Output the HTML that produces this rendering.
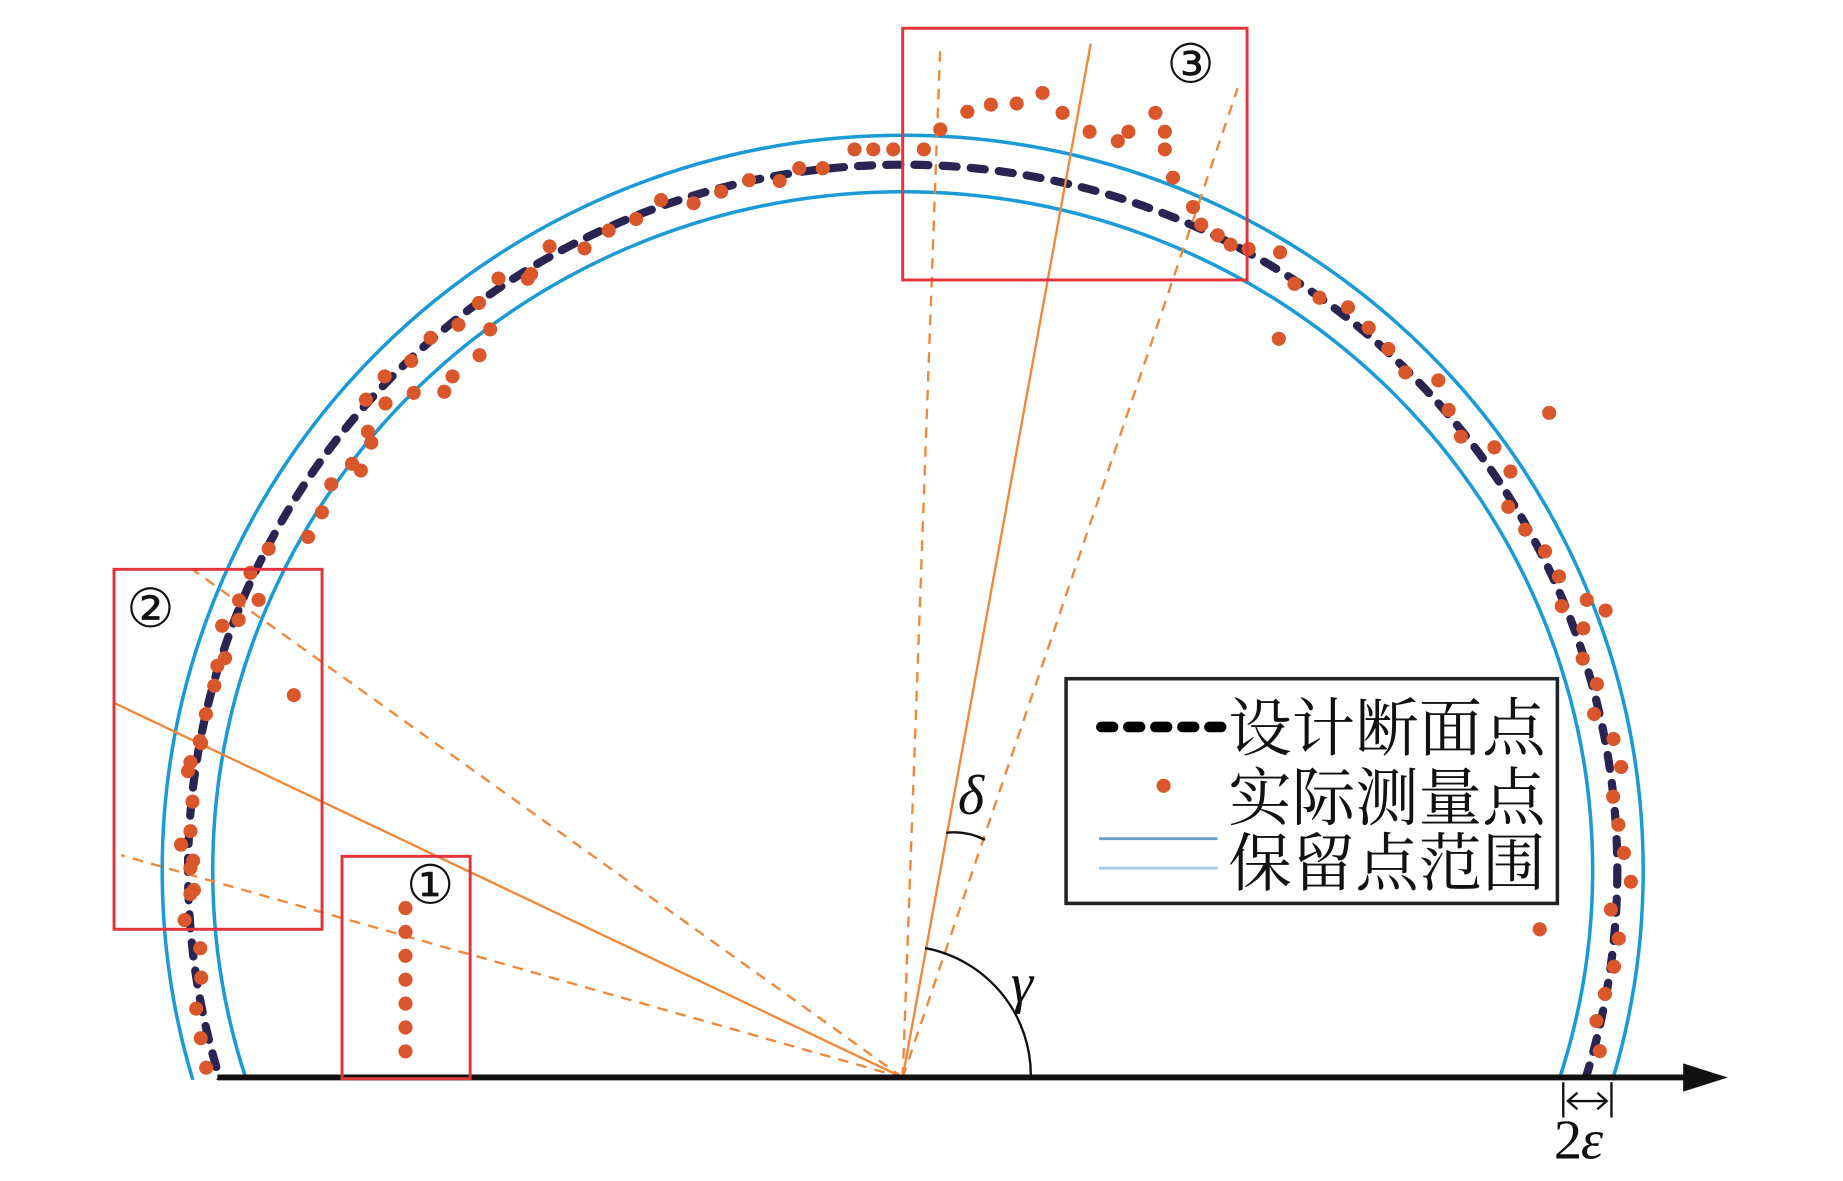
<!DOCTYPE html>
<html><head><meta charset="utf-8"><style>
html,body{margin:0;padding:0;background:#fff;width:1843px;height:1181px;overflow:hidden}
svg{display:block;position:absolute;left:0;top:0}
.cn{font-family:"Liberation Serif","Noto Serif CJK SC","Noto Sans CJK SC",serif;font-size:54px;fill:#111}
.it{font-family:"Liberation Serif",serif;font-style:italic;font-size:48px;fill:#111}
.num{font-family:"Liberation Serif",serif;font-size:46px;fill:#111}
</style></head><body>
<svg id="s" width="1843" height="1181" viewBox="0 0 1568 1004" preserveAspectRatio="none" xmlns="http://www.w3.org/2000/svg">
<defs><clipPath id="c"><rect x="0" y="0" width="1550" height="918"/></clipPath></defs>
<g clip-path="url(#c)" fill="none">
<ellipse cx="768" cy="740" rx="630" ry="625" stroke="#1a9ad6" stroke-width="3"/>
<ellipse cx="768" cy="740" rx="587" ry="577" stroke="#1a9ad6" stroke-width="3"/>
<ellipse cx="768" cy="740" rx="608" ry="600" stroke="#2a2452" stroke-width="7" stroke-dasharray="12 12" stroke-linecap="round"/>
</g>
<g stroke="#f0883a" stroke-width="2" fill="none">
<line x1="768" y1="916" x2="928" y2="37"/>
<line x1="768" y1="916" x2="98" y2="598"/>
<g stroke-dasharray="9 7">
<line x1="768" y1="916" x2="800" y2="38"/>
<line x1="768" y1="916" x2="1053" y2="75"/>
<line x1="768" y1="916" x2="165" y2="485"/>
<line x1="768" y1="916" x2="103" y2="727"/>
</g></g>
<path d="M787 806 A110 110 0 0 1 877 916" fill="none" stroke="#111" stroke-width="2"/>
<path d="M805 708 Q822 706 838 714" fill="none" stroke="#111" stroke-width="2"/>
<text class="it" x="815" y="692">δ</text>
<text class="it" x="860" y="852">γ</text>
<line x1="185" y1="916" x2="1440" y2="916" stroke="#111" stroke-width="5"/>
<polygon points="1432,904 1470,916 1432,928" fill="#111"/>
<g id="pts" fill="#d9572a"></g>
<g fill="none" stroke="#e2343a" stroke-width="2.5">
<rect x="768" y="24" width="293" height="214"/>
<rect x="97" y="484" width="177" height="306"/>
<rect x="291" y="728" width="109" height="189"/>
</g>
<text class="num" x="1013" y="70" text-anchor="middle">③</text>
<text class="num" x="128" y="533" text-anchor="middle">②</text>
<text class="num" x="366" y="768" text-anchor="middle">①</text>
<rect x="907" y="577" width="418" height="191" fill="#fff" stroke="#222" stroke-width="3"/>
<line x1="937" y1="618" x2="1040" y2="618" stroke="#000" stroke-width="9" stroke-dasharray="10 13" stroke-linecap="round"/>
<circle cx="990" cy="668" r="6" fill="#d9572a"/>
<line x1="935" y1="713" x2="1036" y2="713" stroke="#6fa0cc" stroke-width="2.5"/>
<line x1="935" y1="738" x2="1036" y2="738" stroke="#a8cbe8" stroke-width="2.5"/>
<text class="cn" x="1045" y="638">设计断面点</text>
<text class="cn" x="1045" y="697">实际测量点</text>
<text class="cn" x="1045" y="753">保留点范围</text>
<g stroke="#111" stroke-width="2" fill="none">
<line x1="1330" y1="920" x2="1330" y2="950"/>
<line x1="1371" y1="920" x2="1371" y2="950"/>
<line x1="1334" y1="936" x2="1367" y2="936"/>
<polyline points="1342,929 1334,936 1342,943"/>
<polyline points="1359,929 1367,936 1359,943"/>
</g>
<text class="it" x="1322" y="985" style="font-style:normal">2</text><text class="it" x="1345" y="985">ε</text>
</svg>
<script>
(function(){
var g=document.getElementById('pts'),ns='http://www.w3.org/2000/svg';
function dot(x,y){var c=document.createElementNS(ns,'circle');c.setAttribute('cx',x.toFixed(1));c.setAttribute('cy',y.toFixed(1));c.setAttribute('r',6);g.appendChild(c);}
var seed=7;function rnd(){seed=(seed*9301+49297)%233280;return seed/233280;}
for(var t=-17;t<=62;t+=2.3){var a=t*Math.PI/180,off=(rnd()-0.3)*20;
 var x=768+(608+off)*Math.cos(a),y=740-(600+off)*Math.sin(a);if(y<=912)dot(x,y);}
for(var t=100;t<=197;t+=2.4){var a=t*Math.PI/180,off=(rnd()-0.5)*18;
 if(t>140&&t<152)off-=18;
 var x=768+(608+off)*Math.cos(a),y=740-(600+off)*Math.sin(a);if(y<=912)dot(x,y);}
var P=[[1318,351],[1088,288],[1310,790],[250,591],[1366,519],[1350,510],
[800,110],[823,95],[843,89],[865,88],[887,79],[904,96],[927,112],[951,120],[960,112],[983,96],[991,112],[991,127],[998,151],[1015,176],[1022,191],[1036,200],[1047,208],
[727,127],[743,127],[760,127],[786,127],[700,143],[680,143],
[408,302],[385,320],[378,333],[352,334],[328,343],[313,367],[307,400],[417,280],[449,237],
[220,510],[203,527],[185,566],[170,630],[162,648],[154,718],[162,738],[162,760]];
for(var y=772;y<=895;y+=20.3)dot(345,y);
P.forEach(function(p){dot(p[0],p[1]);});
})();
</script>
</body></html>
